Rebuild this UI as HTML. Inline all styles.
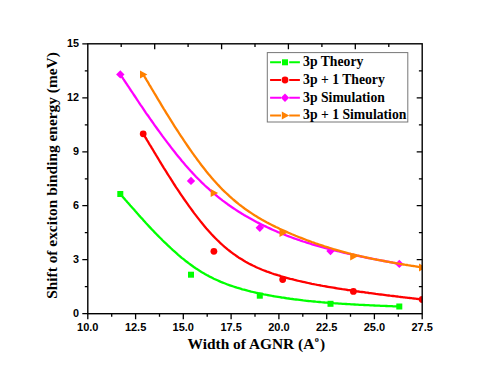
<!DOCTYPE html><html><head><meta charset="utf-8"><style>html,body{margin:0;padding:0;background:#fff;width:491px;height:376px;overflow:hidden}</style></head><body><svg width="491" height="376" viewBox="0 0 491 376" style="position:absolute;left:0;top:0">
<rect width="491" height="376" fill="#fff"/>
<defs><clipPath id="c"><rect x="87.8" y="43.8" width="334.4" height="269.9"/></clipPath></defs>
<path d="M120.3,194.0 L120.3,194.0 L120.3,194.0 L120.3,194.1 L120.3,194.1 L120.3,194.1 L120.3,194.1 L120.4,194.1 L120.4,194.2 L120.4,194.2 L120.5,194.3 L120.5,194.3 L120.6,194.4 L120.7,194.5 L120.8,194.7 L121.0,194.8 L121.1,195.0 L121.3,195.2 L121.4,195.4 L121.6,195.6 L121.9,195.9 L122.1,196.1 L122.4,196.5 L122.7,196.8 L123.0,197.2 L123.4,197.6 L123.8,198.0 L124.2,198.5 L124.6,199.0 L125.1,199.6 L125.6,200.2 L126.2,200.8 L126.8,201.5 L127.4,202.2 L128.1,202.9 L128.8,203.8 L129.6,204.6 L130.3,205.5 L131.2,206.5 L132.1,207.5 L132.1,207.5 L133.0,208.5 L134.0,209.6 L135.0,210.8 L136.1,212.0 L137.2,213.3 L138.3,214.5 L139.5,215.9 L140.7,217.2 L142.0,218.6 L143.3,220.1 L144.6,221.5 L145.9,223.0 L147.3,224.5 L148.8,226.1 L150.2,227.6 L151.7,229.2 L153.2,230.8 L154.7,232.4 L156.3,234.0 L157.9,235.6 L159.5,237.2 L161.1,238.8 L162.7,240.5 L164.4,242.1 L166.1,243.7 L167.8,245.3 L169.5,246.9 L171.2,248.5 L172.9,250.1 L174.7,251.7 L176.4,253.2 L178.2,254.8 L180.0,256.3 L181.7,257.8 L183.5,259.2 L185.3,260.7 L187.1,262.0 L188.9,263.4 L190.7,264.7 L190.7,264.7 L192.5,266.0 L194.2,267.3 L196.0,268.5 L197.8,269.6 L199.6,270.8 L201.4,271.9 L203.2,272.9 L204.9,274.0 L206.7,275.0 L208.5,275.9 L210.3,276.9 L212.1,277.8 L213.8,278.7 L215.6,279.5 L217.4,280.3 L219.2,281.1 L220.9,281.9 L222.7,282.6 L224.5,283.3 L226.3,284.0 L228.0,284.7 L229.8,285.3 L231.6,285.9 L233.4,286.5 L235.2,287.1 L236.9,287.7 L238.7,288.2 L240.5,288.7 L242.3,289.3 L244.0,289.7 L245.8,290.2 L247.6,290.7 L249.4,291.1 L251.2,291.6 L253.0,292.0 L254.7,292.4 L256.5,292.8 L258.3,293.2 L260.1,293.5 L260.1,293.5 L261.9,293.9 L263.7,294.3 L265.5,294.6 L267.3,295.0 L269.1,295.3 L270.8,295.6 L272.6,296.0 L274.4,296.3 L276.2,296.6 L278.0,296.9 L279.8,297.2 L281.6,297.5 L283.4,297.7 L285.2,298.0 L287.0,298.3 L288.8,298.5 L290.6,298.8 L292.4,299.0 L294.2,299.3 L296.0,299.5 L297.8,299.7 L299.6,299.9 L301.4,300.1 L303.2,300.4 L305.0,300.6 L306.8,300.8 L308.6,301.0 L310.4,301.1 L312.2,301.3 L314.0,301.5 L315.8,301.7 L317.6,301.8 L319.4,302.0 L321.2,302.2 L323.0,302.3 L324.8,302.5 L326.6,302.6 L328.4,302.8 L330.2,302.9 L330.2,302.9 L331.9,303.0 L333.7,303.2 L335.5,303.3 L337.3,303.4 L339.1,303.6 L340.8,303.7 L342.6,303.8 L344.3,303.9 L346.1,304.0 L347.8,304.1 L349.5,304.2 L351.2,304.3 L352.9,304.4 L354.6,304.5 L356.2,304.6 L357.8,304.7 L359.5,304.8 L361.1,304.9 L362.6,304.9 L364.2,305.0 L365.7,305.1 L367.2,305.2 L368.7,305.2 L370.1,305.3 L371.5,305.4 L372.9,305.4 L374.3,305.5 L375.6,305.6 L376.9,305.6 L378.2,305.7 L379.4,305.7 L380.6,305.8 L381.7,305.8 L382.9,305.9 L383.9,305.9 L385.0,305.9 L386.0,306.0 L386.9,306.0 L387.8,306.1 L387.8,306.1 L388.7,306.1 L389.5,306.1 L390.3,306.1 L391.0,306.2 L391.7,306.2 L392.3,306.2 L392.9,306.3 L393.5,306.3 L394.1,306.3 L394.6,306.3 L395.0,306.3 L395.5,306.4 L395.9,306.4 L396.2,306.4 L396.6,306.4 L396.9,306.4 L397.2,306.4 L397.5,306.4 L397.7,306.4 L397.9,306.5 L398.1,306.5 L398.3,306.5 L398.5,306.5 L398.6,306.5 L398.7,306.5 L398.8,306.5 L398.9,306.5 L399.0,306.5 L399.1,306.5 L399.1,306.5 L399.2,306.5 L399.2,306.5 L399.2,306.5 L399.2,306.5 L399.3,306.5 L399.3,306.5 L399.3,306.5 L399.3,306.5 L399.3,306.5" fill="none" stroke="#00ff00" stroke-width="2.3" stroke-linejoin="round" clip-path="url(#c)"/>
<rect x="117.3" y="191.0" width="6.0" height="6.0" fill="#00ff00" clip-path="url(#c)"/>
<rect x="188.0" y="271.7" width="6.0" height="6.0" fill="#00ff00" clip-path="url(#c)"/>
<rect x="256.8" y="292.7" width="6.0" height="6.0" fill="#00ff00" clip-path="url(#c)"/>
<rect x="327.5" y="300.8" width="6.0" height="6.0" fill="#00ff00" clip-path="url(#c)"/>
<rect x="396.3" y="303.5" width="6.0" height="6.0" fill="#00ff00" clip-path="url(#c)"/>
<path d="M143.2,133.8 L143.2,133.8 L143.2,133.8 L143.2,133.8 L143.2,133.8 L143.2,133.8 L143.3,133.8 L143.3,133.9 L143.3,133.9 L143.4,134.0 L143.4,134.1 L143.5,134.2 L143.6,134.3 L143.7,134.5 L143.8,134.7 L143.9,134.9 L144.0,135.1 L144.2,135.4 L144.4,135.7 L144.6,136.0 L144.8,136.4 L145.1,136.8 L145.3,137.3 L145.6,137.8 L146.0,138.3 L146.3,138.9 L146.7,139.6 L147.1,140.3 L147.6,141.0 L148.1,141.8 L148.6,142.7 L149.1,143.6 L149.7,144.6 L150.4,145.6 L151.0,146.7 L151.7,147.9 L152.5,149.2 L153.3,150.5 L154.1,151.9 L155.0,153.3 L155.0,153.3 L155.9,154.9 L156.9,156.5 L157.9,158.2 L159.0,160.0 L160.1,161.8 L161.2,163.7 L162.4,165.6 L163.6,167.6 L164.9,169.6 L166.2,171.7 L167.5,173.8 L168.9,176.0 L170.3,178.2 L171.7,180.4 L173.1,182.7 L174.6,185.0 L176.1,187.3 L177.7,189.6 L179.2,191.9 L180.8,194.3 L182.4,196.6 L184.0,199.0 L185.7,201.4 L187.3,203.7 L189.0,206.1 L190.7,208.4 L192.4,210.7 L194.1,213.1 L195.9,215.4 L197.6,217.6 L199.4,219.9 L201.1,222.1 L202.9,224.2 L204.7,226.4 L206.4,228.5 L208.2,230.5 L210.0,232.5 L211.8,234.5 L213.6,236.4 L213.6,236.4 L215.4,238.2 L217.2,240.0 L219.0,241.7 L220.7,243.4 L222.5,245.0 L224.3,246.6 L226.1,248.1 L227.9,249.6 L229.7,251.0 L231.4,252.3 L233.2,253.7 L235.0,254.9 L236.8,256.2 L238.5,257.4 L240.3,258.5 L242.1,259.6 L243.9,260.7 L245.6,261.7 L247.4,262.7 L249.2,263.7 L251.0,264.6 L252.8,265.5 L254.5,266.3 L256.3,267.2 L258.1,268.0 L259.9,268.7 L261.6,269.5 L263.4,270.2 L265.2,270.9 L267.0,271.6 L268.8,272.2 L270.5,272.8 L272.3,273.5 L274.1,274.1 L275.9,274.6 L277.7,275.2 L279.5,275.7 L281.2,276.3 L283.0,276.8 L283.0,276.8 L284.8,277.3 L286.6,277.8 L288.4,278.3 L290.2,278.8 L292.0,279.2 L293.8,279.7 L295.6,280.1 L297.4,280.6 L299.2,281.0 L301.0,281.4 L302.8,281.8 L304.6,282.2 L306.4,282.6 L308.2,283.0 L310.0,283.4 L311.8,283.8 L313.6,284.1 L315.4,284.5 L317.2,284.9 L319.0,285.2 L320.8,285.5 L322.6,285.9 L324.4,286.2 L326.2,286.5 L328.0,286.8 L329.8,287.1 L331.6,287.4 L333.4,287.7 L335.2,288.0 L337.0,288.3 L338.7,288.6 L340.5,288.9 L342.3,289.2 L344.1,289.4 L345.9,289.7 L347.7,290.0 L349.5,290.2 L351.3,290.5 L353.1,290.8 L353.1,290.8 L354.9,291.0 L356.7,291.3 L358.4,291.5 L360.2,291.8 L362.0,292.0 L363.8,292.2 L365.5,292.5 L367.3,292.7 L369.0,293.0 L370.7,293.2 L372.4,293.4 L374.1,293.6 L375.8,293.9 L377.5,294.1 L379.1,294.3 L380.8,294.5 L382.4,294.7 L384.0,294.9 L385.6,295.1 L387.1,295.3 L388.6,295.5 L390.1,295.7 L391.6,295.8 L393.1,296.0 L394.5,296.2 L395.9,296.4 L397.2,296.5 L398.5,296.7 L399.8,296.8 L401.1,297.0 L402.3,297.1 L403.5,297.3 L404.7,297.4 L405.8,297.6 L406.9,297.7 L407.9,297.8 L408.9,297.9 L409.8,298.0 L410.7,298.1 L410.7,298.1 L411.6,298.2 L412.4,298.3 L413.2,298.4 L413.9,298.5 L414.6,298.6 L415.3,298.7 L415.9,298.7 L416.4,298.8 L417.0,298.9 L417.5,298.9 L418.0,299.0 L418.4,299.0 L418.8,299.1 L419.2,299.1 L419.5,299.2 L419.8,299.2 L420.1,299.2 L420.4,299.3 L420.7,299.3 L420.9,299.3 L421.1,299.4 L421.3,299.4 L421.4,299.4 L421.5,299.4 L421.7,299.4 L421.8,299.4 L421.9,299.4 L421.9,299.5 L422.0,299.5 L422.1,299.5 L422.1,299.5 L422.1,299.5 L422.2,299.5 L422.2,299.5 L422.2,299.5 L422.2,299.5 L422.2,299.5 L422.2,299.5 L422.2,299.5" fill="none" stroke="#ff0000" stroke-width="2.3" stroke-linejoin="round" clip-path="url(#c)"/>
<circle cx="143.2" cy="133.8" r="3.4" fill="#ff0000" clip-path="url(#c)"/>
<circle cx="213.9" cy="251.3" r="3.4" fill="#ff0000" clip-path="url(#c)"/>
<circle cx="282.7" cy="279.5" r="3.4" fill="#ff0000" clip-path="url(#c)"/>
<circle cx="353.4" cy="291.4" r="3.4" fill="#ff0000" clip-path="url(#c)"/>
<circle cx="422.2" cy="299.5" r="3.4" fill="#ff0000" clip-path="url(#c)"/>
<path d="M120.3,74.4 L120.3,74.4 L120.3,74.4 L120.3,74.4 L120.3,74.4 L120.3,74.4 L120.3,74.5 L120.4,74.5 L120.4,74.5 L120.4,74.6 L120.5,74.7 L120.5,74.8 L120.6,74.9 L120.7,75.0 L120.8,75.2 L121.0,75.4 L121.1,75.6 L121.3,75.9 L121.4,76.1 L121.6,76.4 L121.9,76.8 L122.1,77.2 L122.4,77.6 L122.7,78.0 L123.0,78.5 L123.4,79.1 L123.8,79.6 L124.2,80.3 L124.6,81.0 L125.1,81.7 L125.6,82.5 L126.2,83.3 L126.8,84.2 L127.4,85.1 L128.1,86.2 L128.8,87.2 L129.6,88.4 L130.3,89.5 L131.2,90.8 L132.1,92.1 L132.1,92.1 L133.0,93.5 L134.0,95.0 L135.0,96.5 L136.1,98.1 L137.2,99.8 L138.3,101.5 L139.5,103.3 L140.7,105.1 L142.0,106.9 L143.3,108.8 L144.6,110.8 L145.9,112.8 L147.3,114.8 L148.8,116.8 L150.2,118.9 L151.7,121.0 L153.2,123.2 L154.7,125.3 L156.3,127.5 L157.9,129.7 L159.5,131.9 L161.1,134.2 L162.7,136.4 L164.4,138.6 L166.1,140.9 L167.8,143.1 L169.5,145.3 L171.2,147.6 L172.9,149.8 L174.7,152.0 L176.4,154.2 L178.2,156.4 L180.0,158.6 L181.7,160.7 L183.5,162.8 L185.3,164.9 L187.1,166.9 L188.9,169.0 L190.7,171.0 L190.7,171.0 L192.5,172.9 L194.2,174.8 L196.0,176.7 L197.8,178.5 L199.6,180.3 L201.4,182.1 L203.2,183.8 L204.9,185.5 L206.7,187.1 L208.5,188.7 L210.3,190.3 L212.1,191.9 L213.8,193.4 L215.6,194.9 L217.4,196.4 L219.2,197.8 L220.9,199.2 L222.7,200.6 L224.5,201.9 L226.3,203.2 L228.0,204.5 L229.8,205.8 L231.6,207.0 L233.4,208.2 L235.2,209.4 L236.9,210.6 L238.7,211.7 L240.5,212.8 L242.3,213.9 L244.0,215.0 L245.8,216.1 L247.6,217.1 L249.4,218.1 L251.2,219.1 L253.0,220.1 L254.7,221.0 L256.5,222.0 L258.3,222.9 L260.1,223.8 L260.1,223.8 L261.9,224.7 L263.7,225.6 L265.5,226.4 L267.3,227.3 L269.1,228.1 L270.8,228.9 L272.6,229.7 L274.4,230.5 L276.2,231.3 L278.0,232.1 L279.8,232.8 L281.6,233.5 L283.4,234.3 L285.2,235.0 L287.0,235.7 L288.8,236.4 L290.6,237.0 L292.4,237.7 L294.2,238.4 L296.0,239.0 L297.8,239.6 L299.6,240.2 L301.4,240.9 L303.2,241.5 L305.0,242.0 L306.8,242.6 L308.6,243.2 L310.4,243.7 L312.2,244.3 L314.0,244.8 L315.8,245.4 L317.6,245.9 L319.4,246.4 L321.2,246.9 L323.0,247.4 L324.8,247.9 L326.6,248.4 L328.4,248.8 L330.2,249.3 L330.2,249.3 L331.9,249.8 L333.7,250.2 L335.5,250.7 L337.3,251.1 L339.1,251.5 L340.8,252.0 L342.6,252.4 L344.3,252.8 L346.1,253.2 L347.8,253.6 L349.5,254.0 L351.2,254.4 L352.9,254.7 L354.6,255.1 L356.2,255.5 L357.8,255.8 L359.5,256.2 L361.1,256.5 L362.6,256.8 L364.2,257.1 L365.7,257.5 L367.2,257.8 L368.7,258.1 L370.1,258.3 L371.5,258.6 L372.9,258.9 L374.3,259.2 L375.6,259.4 L376.9,259.7 L378.2,259.9 L379.4,260.2 L380.6,260.4 L381.7,260.6 L382.9,260.8 L383.9,261.0 L385.0,261.2 L386.0,261.4 L386.9,261.6 L387.8,261.7 L387.8,261.7 L388.7,261.9 L389.5,262.0 L390.3,262.2 L391.0,262.3 L391.7,262.4 L392.3,262.6 L392.9,262.7 L393.5,262.8 L394.1,262.9 L394.6,263.0 L395.0,263.1 L395.5,263.2 L395.9,263.2 L396.2,263.3 L396.6,263.4 L396.9,263.4 L397.2,263.5 L397.5,263.5 L397.7,263.6 L397.9,263.6 L398.1,263.6 L398.3,263.7 L398.5,263.7 L398.6,263.7 L398.7,263.8 L398.8,263.8 L398.9,263.8 L399.0,263.8 L399.1,263.8 L399.1,263.8 L399.2,263.8 L399.2,263.8 L399.2,263.9 L399.2,263.9 L399.3,263.9 L399.3,263.9 L399.3,263.9 L399.3,263.9 L399.3,263.9" fill="none" stroke="#ff00ff" stroke-width="2.3" stroke-linejoin="round" clip-path="url(#c)"/>
<path d="M116.1,74.4 L120.3,70.2 L124.5,74.4 L120.3,78.6 Z" fill="#ff00ff" clip-path="url(#c)"/>
<path d="M186.8,180.9 L191.0,176.7 L195.2,180.9 L191.0,185.1 Z" fill="#ff00ff" clip-path="url(#c)"/>
<path d="M255.6,227.7 L259.8,223.5 L264.0,227.7 L259.8,231.9 Z" fill="#ff00ff" clip-path="url(#c)"/>
<path d="M326.3,251.1 L330.5,246.9 L334.7,251.1 L330.5,255.3 Z" fill="#ff00ff" clip-path="url(#c)"/>
<path d="M395.1,263.9 L399.3,259.7 L403.5,263.9 L399.3,268.1 Z" fill="#ff00ff" clip-path="url(#c)"/>
<path d="M143.2,74.4 L143.2,74.4 L143.2,74.4 L143.2,74.4 L143.2,74.4 L143.2,74.4 L143.3,74.5 L143.3,74.5 L143.3,74.6 L143.4,74.6 L143.4,74.7 L143.5,74.8 L143.6,75.0 L143.7,75.1 L143.8,75.3 L143.9,75.5 L144.0,75.8 L144.2,76.0 L144.4,76.3 L144.6,76.7 L144.8,77.1 L145.1,77.5 L145.3,77.9 L145.6,78.4 L146.0,79.0 L146.3,79.6 L146.7,80.3 L147.1,81.0 L147.6,81.7 L148.1,82.5 L148.6,83.4 L149.1,84.3 L149.7,85.3 L150.4,86.4 L151.0,87.5 L151.7,88.7 L152.5,90.0 L153.3,91.3 L154.1,92.7 L155.0,94.2 L155.0,94.2 L155.9,95.7 L156.9,97.4 L157.9,99.1 L159.0,100.9 L160.1,102.7 L161.2,104.6 L162.4,106.6 L163.6,108.6 L164.9,110.6 L166.2,112.8 L167.5,114.9 L168.9,117.1 L170.3,119.4 L171.7,121.6 L173.1,123.9 L174.6,126.3 L176.1,128.6 L177.7,131.0 L179.2,133.4 L180.8,135.8 L182.4,138.2 L184.0,140.7 L185.7,143.1 L187.3,145.5 L189.0,148.0 L190.7,150.4 L192.4,152.8 L194.1,155.2 L195.9,157.6 L197.6,160.0 L199.4,162.4 L201.1,164.7 L202.9,167.0 L204.7,169.3 L206.4,171.5 L208.2,173.7 L210.0,175.8 L211.8,177.9 L213.6,180.0 L213.6,180.0 L215.4,182.0 L217.2,184.0 L219.0,185.9 L220.7,187.7 L222.5,189.6 L224.3,191.3 L226.1,193.0 L227.9,194.7 L229.7,196.4 L231.4,197.9 L233.2,199.5 L235.0,201.0 L236.8,202.5 L238.5,203.9 L240.3,205.3 L242.1,206.6 L243.9,208.0 L245.6,209.3 L247.4,210.5 L249.2,211.7 L251.0,212.9 L252.8,214.1 L254.5,215.2 L256.3,216.3 L258.1,217.4 L259.9,218.5 L261.6,219.5 L263.4,220.5 L265.2,221.5 L267.0,222.5 L268.8,223.4 L270.5,224.3 L272.3,225.2 L274.1,226.1 L275.9,227.0 L277.7,227.8 L279.5,228.7 L281.2,229.5 L283.0,230.3 L283.0,230.3 L284.8,231.1 L286.6,231.9 L288.4,232.7 L290.2,233.5 L292.0,234.3 L293.8,235.0 L295.6,235.8 L297.4,236.5 L299.2,237.2 L301.0,237.9 L302.8,238.6 L304.6,239.3 L306.4,240.0 L308.2,240.7 L310.0,241.3 L311.8,242.0 L313.6,242.6 L315.4,243.3 L317.2,243.9 L319.0,244.5 L320.8,245.1 L322.6,245.7 L324.4,246.3 L326.2,246.8 L328.0,247.4 L329.8,248.0 L331.6,248.5 L333.4,249.1 L335.2,249.6 L337.0,250.1 L338.7,250.6 L340.5,251.1 L342.3,251.6 L344.1,252.1 L345.9,252.6 L347.7,253.1 L349.5,253.5 L351.3,254.0 L353.1,254.4 L353.1,254.4 L354.9,254.8 L356.7,255.3 L358.4,255.7 L360.2,256.1 L362.0,256.5 L363.8,256.9 L365.5,257.3 L367.3,257.7 L369.0,258.0 L370.7,258.4 L372.4,258.8 L374.1,259.1 L375.8,259.5 L377.5,259.8 L379.1,260.1 L380.8,260.4 L382.4,260.7 L384.0,261.0 L385.6,261.3 L387.1,261.6 L388.6,261.9 L390.1,262.2 L391.6,262.4 L393.1,262.7 L394.5,262.9 L395.9,263.2 L397.2,263.4 L398.5,263.6 L399.8,263.9 L401.1,264.1 L402.3,264.3 L403.5,264.5 L404.7,264.7 L405.8,264.8 L406.9,265.0 L407.9,265.2 L408.9,265.3 L409.8,265.5 L410.7,265.6 L410.7,265.6 L411.6,265.8 L412.4,265.9 L413.2,266.0 L413.9,266.1 L414.6,266.2 L415.3,266.3 L415.9,266.4 L416.4,266.5 L417.0,266.6 L417.5,266.7 L418.0,266.8 L418.4,266.9 L418.8,266.9 L419.2,267.0 L419.5,267.0 L419.8,267.1 L420.1,267.1 L420.4,267.2 L420.7,267.2 L420.9,267.2 L421.1,267.3 L421.3,267.3 L421.4,267.3 L421.5,267.4 L421.7,267.4 L421.8,267.4 L421.9,267.4 L421.9,267.4 L422.0,267.4 L422.1,267.4 L422.1,267.4 L422.1,267.4 L422.2,267.5 L422.2,267.5 L422.2,267.5 L422.2,267.5 L422.2,267.5 L422.2,267.5 L422.2,267.5" fill="none" stroke="#ff8000" stroke-width="2.3" stroke-linejoin="round" clip-path="url(#c)"/>
<path d="M140.0,70.4 L147.4,74.4 L140.0,78.4 Z" fill="#ff8000" clip-path="url(#c)"/>
<path d="M210.7,189.1 L218.1,193.1 L210.7,197.1 Z" fill="#ff8000" clip-path="url(#c)"/>
<path d="M279.5,229.1 L286.9,233.1 L279.5,237.1 Z" fill="#ff8000" clip-path="url(#c)"/>
<path d="M350.2,252.5 L357.6,256.5 L350.2,260.5 Z" fill="#ff8000" clip-path="url(#c)"/>
<path d="M419.0,263.5 L426.4,267.5 L419.0,271.5 Z" fill="#ff8000" clip-path="url(#c)"/>
<rect x="87.8" y="43.8" width="334.4" height="269.9" fill="none" stroke="#000" stroke-width="1.4"/>
<path d="M87.8,313.7 v5.5 M111.7,313.7 v3.0 M135.6,313.7 v5.5 M159.5,313.7 v3.0 M183.3,313.7 v5.5 M207.2,313.7 v3.0 M231.1,313.7 v5.5 M255.0,313.7 v3.0 M278.9,313.7 v5.5 M302.8,313.7 v3.0 M326.7,313.7 v5.5 M350.5,313.7 v3.0 M374.4,313.7 v5.5 M398.3,313.7 v3.0 M422.2,313.7 v5.5 M87.8,313.7 h-5.5 M87.8,286.7 h-3.0 M87.8,259.7 h-5.5 M87.8,232.7 h-3.0 M87.8,205.7 h-5.5 M87.8,178.8 h-3.0 M87.8,151.8 h-5.5 M87.8,124.8 h-3.0 M87.8,97.8 h-5.5 M87.8,70.8 h-3.0 M87.8,43.8 h-5.5 M121.2,43.8 v3.3 M154.7,43.8 v5.5 M188.1,43.8 v3.3 M221.6,43.8 v5.5 M255.0,43.8 v3.3 M288.4,43.8 v5.5 M321.9,43.8 v3.3 M355.3,43.8 v5.5 M388.8,43.8 v3.3 M422.2,286.7 h-3.3 M422.2,259.7 h-5.5 M422.2,232.7 h-3.3 M422.2,205.7 h-5.5 M422.2,178.8 h-3.3 M422.2,151.8 h-5.5 M422.2,124.8 h-3.3 M422.2,97.8 h-5.5 M422.2,70.8 h-3.3" stroke="#000" stroke-width="1.3" fill="none"/>
<g font-family="Liberation Sans, sans-serif" font-weight="bold" font-size="11" fill="#000">
<text x="87.8" y="331.2" text-anchor="middle">10.0</text>
<text x="135.6" y="331.2" text-anchor="middle">12.5</text>
<text x="183.3" y="331.2" text-anchor="middle">15.0</text>
<text x="231.1" y="331.2" text-anchor="middle">17.5</text>
<text x="278.9" y="331.2" text-anchor="middle">20.0</text>
<text x="326.7" y="331.2" text-anchor="middle">22.5</text>
<text x="374.4" y="331.2" text-anchor="middle">25.0</text>
<text x="422.2" y="331.2" text-anchor="middle">27.5</text>
<text x="78.9" y="317.3" text-anchor="end" font-size="10.8">0</text>
<text x="78.9" y="263.3" text-anchor="end" font-size="10.8">3</text>
<text x="78.9" y="209.3" text-anchor="end" font-size="10.8">6</text>
<text x="78.9" y="155.4" text-anchor="end" font-size="10.8">9</text>
<text x="78.9" y="101.4" text-anchor="end" font-size="10.8">12</text>
<text x="78.9" y="47.4" text-anchor="end" font-size="10.8">15</text>
</g>
<g font-family="Liberation Serif, serif" font-weight="bold" font-size="15.4" fill="#000">
<text x="187.6" y="349">Width of AGNR (A<tspan font-size="8.2" dy="-7" dx="0.5">o</tspan><tspan dy="7" dx="1.2">)</tspan></text>
<text transform="translate(56.9,175.5) rotate(-90)" text-anchor="middle">Shift of exciton binding energy (meV)</text>
</g>
<rect x="267.3" y="52.6" width="140.5" height="69.4" fill="#fff" stroke="#777" stroke-width="1"/>
<g font-family="Liberation Serif, serif" font-weight="bold" font-size="13.7" fill="#000">
<path d="M270.1,62.3 H281.0 M289.2,62.3 H299.9" stroke="#00ff00" stroke-width="2" fill="none"/>
<rect x="282.0" y="59.3" width="6.0" height="6.0" fill="#00ff00"/>
<text x="303.1" y="66.2">3p Theory</text>
<path d="M270.1,80.0 H281.0 M289.2,80.0 H299.9" stroke="#ff0000" stroke-width="2" fill="none"/>
<circle cx="285.0" cy="80.0" r="3.4" fill="#ff0000"/>
<text x="303.1" y="83.9">3p + 1 Theory</text>
<path d="M270.1,97.7 H281.0 M289.2,97.7 H299.9" stroke="#ff00ff" stroke-width="2" fill="none"/>
<path d="M280.8,97.7 L285.0,93.5 L289.2,97.7 L285.0,101.9 Z" fill="#ff00ff"/>
<text x="303.1" y="101.6">3p Simulation</text>
<path d="M270.1,115.4 H281.0 M289.2,115.4 H299.9" stroke="#ff8000" stroke-width="2" fill="none"/>
<path d="M281.8,111.4 L289.2,115.4 L281.8,119.4 Z" fill="#ff8000"/>
<text x="303.1" y="119.3">3p + 1 Simulation</text>
</g>
</svg></body></html>
